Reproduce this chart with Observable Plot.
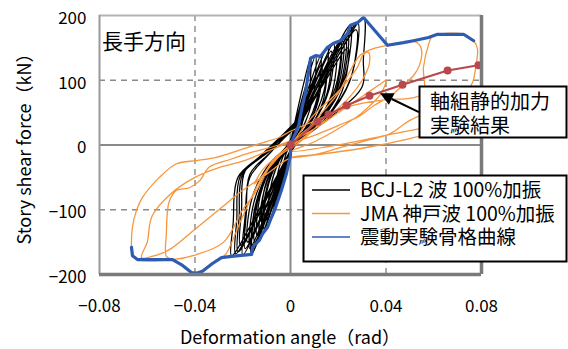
<!DOCTYPE html>
<html><head><meta charset="utf-8">
<script src="https://cdn.jsdelivr.net/npm/d3@7"></script>
<script src="https://cdn.jsdelivr.net/npm/@observablehq/plot@0.6"></script>
<style>
body{margin:0;background:#fff;}
#wrap{position:relative;width:568px;height:349px;}
svg{font-family:"Noto Sans CJK JP",sans-serif;}
</style></head><body><div id="wrap"></div>
<script>
const xTicks = [-0.08, -0.04, 0, 0.04, 0.08];
const xTickLabels = ["−0.08", "−0.04", "0", "0.04", "0.08"];
const yTicks = [-200, -100, 0, 100, 200];
const yTickLabels = ["−200", "−100", "0", "100", "200"];
const dashedX = [-0.04, 0.04];
const dashedY = [-100, 100];
const xLabel = "Deformation angle（rad）";
const yLabel = "Story shear force（kN）";
const panelLabel = "長手方向";
const seriesNames = ["BCJ-L2 波 100%加振", "JMA 神戸波 100%加振", "震動実験骨格曲線"];
const annotationLines = ["軸組静的加力", "実験結果"];
const annotationArrow = [[0.054, 50], [0.0377, 79]]; // tail, tip (data units)

// 軸組静的加力実験結果
const staticTest = [[0,0],[0.0113,36],[0.0159,47],[0.0235,61],[0.0331,76],[0.0469,93],[0.0658,115],[0.0787,123]];

// 震動実験骨格曲線
const skeleton = [
[-0.0666,-158],[-0.0662,-171],[-0.0641,-177],[-0.0494,-177],[-0.0452,-186],[-0.0415,-197],[-0.0394,-198],[-0.0369,-195],[-0.0327,-183],[-0.0289,-174],[-0.0247,-172],[-0.0163,-169],[-0.0159,-158],[-0.013,-147],[-0.0117,-137],[-0.0096,-127],[-0.008,-112],[-0.0067,-101],[-0.0038,-70],[-0.0017,-44],[0,-16],[0,0],
[0.0034,30],[0.005,61],[0.0063,81],[0.0084,134],[0.0105,138],[0.0126,137],[0.0155,151],[0.018,157],[0.0209,161],[0.0239,172],[0.0251,185],[0.0281,189],[0.0306,197],[0.0406,154],[0.0473,158],[0.0515,161],[0.0578,166],[0.0616,171],[0.0725,171],[0.0767,161]
];

// BCJ-L2 波 100%加振
const bcj = [
[0,0],[0.0016,24],[0.0038,53],[0.0063,81],[0.0057,45],[0.0032,16],[0.0006,2],
[-0.001,-21],[-0.0023,-46],[-0.0038,-70],[-0.0034,-39],[-0.0019,-14],[-0.0004,-1],
[0.0021,40],[0.005,87],[0.0084,134],[0.0076,74],[0.0042,27],[0.0008,3],
[-0.0017,-30],[-0.004,-66],[-0.0067,-101],[-0.006,-56],[-0.0034,-20],[-0.0007,-2],
[0.0026,41],[0.0063,90],[0.0105,138],[0.0095,76],[0.0053,28],[0.001,3],
[-0.0024,-38],[-0.0058,-83],[-0.0096,-127],[-0.0086,-70],[-0.0048,-25],[-0.001,-3],
[0.0032,41],[0.0076,89],[0.0126,137],[0.0113,75],[0.0063,27],[0.0013,3],
[-0.0029,-41],[-0.007,-89],[-0.0117,-137],[-0.0105,-75],[-0.0059,-27],[-0.0012,-3],
[0.0039,45],[0.0093,98],[0.0155,151],[0.014,83],[0.0078,30],[0.0016,3],
[-0.0033,-44],[-0.0078,-96],[-0.013,-147],[-0.0117,-81],[-0.0065,-29],[-0.0013,-3],
[0.0045,47],[0.0108,102],[0.018,157],[0.0162,86],[0.009,31],[0.0018,3],
[-0.004,-47],[-0.0095,-103],[-0.0159,-158],[-0.0143,-87],[-0.008,-32],[-0.0016,-3],
[0.0052,48],[0.0125,105],[0.0209,161],[0.0188,89],[0.0105,32],[0.0021,3],
[-0.0041,-51],[-0.0098,-110],[-0.0163,-169],[-0.0147,-93],[-0.0082,-34],[-0.0016,-3],
[0.006,52],[0.0143,112],[0.0239,172],[0.0215,95],[0.012,34],[0.0024,3],
[-0.005,-51],[-0.012,-111],[-0.02,-170],[-0.019,-110],[-0.017,-50],[-0.008,-10],
[0.0063,56],[0.0151,120],[0.0251,185],[0.0226,102],[0.0126,37],[0.0025,4],
[-0.0062,-51],[-0.0148,-111],[-0.0247,-171],[-0.024,-120],[-0.022,-50],[-0.012,-15],
[0.007,57],[0.0169,123],[0.0281,189],[0.0253,104],[0.0141,38],[0.0028,4],
[-0.0055,-50],[-0.0132,-107],[-0.022,-165],[-0.0215,-110],[-0.02,-45],[-0.01,-12],
[0.0077,59],[0.0184,128],[0.0306,197],[0.0305,130],[0.03,90],[0.0153,39],[0.003,4],
[-0.0045,-45],[-0.0108,-98],[-0.018,-150],[-0.0162,-83],[-0.009,-30],[-0.0018,-3],
[0.0055,48],[0.0132,104],[0.022,160],[0.0198,88],[0.011,32],[0.0022,3],
[-0.0035,-42],[-0.0084,-91],[-0.014,-140],[-0.0126,-77],[-0.007,-28],[-0.0014,-3],
[0.0048,42],[0.0114,91],[0.019,140],[0.0171,77],[0.0095,28],[0.0019,3],
[-0.0053,-47],[-0.0126,-101],[-0.021,-155],[-0.0205,-100],[-0.019,-40],[-0.009,-10],
[0.0038,36],[0.009,78],[0.015,120],[0.0135,66],[0.0075,24],[0.0015,2],
[-0.003,-36],[-0.0072,-78],[-0.012,-120],[-0.0108,-66],[-0.006,-24],[-0.0012,-2],
[0.006,45],[0.0144,98],[0.024,150],[0.0216,83],[0.012,30],[0.0024,3],
[-0.0043,-48],[-0.0102,-104],[-0.017,-160],[-0.0153,-88],[-0.0085,-32],[-0.0017,-3],
[0.003,33],[0.0072,72],[0.012,110],[0.0108,61],[0.006,22],[0.0012,2],
[-0.0023,-33],[-0.0054,-72],[-0.009,-110],[-0.0081,-61],[-0.0045,-22],[-0.0009,-2],
[0.0043,44],[0.0102,94],[0.017,145],[0.0153,80],[0.0085,29],[0.0017,3],
[-0.0038,-45],[-0.009,-98],[-0.015,-150],[-0.0135,-83],[-0.0075,-30],[-0.0015,-3],
[0.0053,45],[0.0126,98],[0.021,150],[0.0189,83],[0.0105,30],[0.0021,3],
[-0.0048,-48],[-0.0114,-104],[-0.019,-160],[-0.0185,-105],[-0.017,-45],[-0.008,-10],
[0.0033,38],[0.0078,81],[0.013,125],[0.0117,69],[0.0065,25],[0.0013,3],
[-0.0028,-39],[-0.0066,-85],[-0.011,-130],[-0.0099,-72],[-0.0055,-26],[-0.0011,-3],
[0.0058,50],[0.0138,107],[0.023,165],[0.0207,91],[0.0115,33],[0.0023,3],
[-0.0058,-50],[-0.0138,-109],[-0.023,-168],[-0.0225,-115],[-0.021,-48],[-0.011,-13],
[0.0069,53],[0.0165,116],[0.0275,178],[0.0248,98],[0.0138,36],[0.0028,4],
[-0.004,-50],[-0.0096,-107],[-0.016,-165],[-0.0144,-91],[-0.008,-33],[-0.0016,-3]
];

// JMA 神戸波 100%加振
const jma = [
[0,0],[0.004,15],[0.009,30],[0.013,40],[0.01,25],[0.004,5],[-0.004,-15],[-0.01,-40],[-0.015,-60],[-0.012,-40],[-0.005,-15],[0,0],
[0.006,30],[0.012,55],[0.018,75],[0.023,95],[0.028,120],[0.0306,140],[0.0327,143],[0.033,125],[0.03,100],[0.025,75],[0.018,50],[0.01,25],[0.003,5],
[-0.005,-15],[-0.012,-50],[-0.02,-110],[-0.027,-168],[-0.0289,-174],[-0.0327,-183],[-0.0369,-195],[-0.0394,-198],[-0.0415,-197],[-0.0452,-186],[-0.0494,-177],[-0.052,-172],[-0.052,-137],[-0.0515,-101],[-0.0507,-86],[-0.0477,-70],[-0.0423,-66],[-0.038,-55],[-0.034,-34],[-0.025,-22],[-0.015,-10],[-0.005,0],[0.005,15],
[0.012,45],[0.02,80],[0.0239,107],[0.0293,139],[0.0348,149],[0.0406,154],[0.0473,158],[0.0515,160],[0.054,155],[0.055,143],[0.054,123],[0.0515,107],[0.047,92],[0.042,76],[0.035,61],[0.029,45],[0.02,30],[0.01,15],[0,0],
[-0.008,-30],[-0.015,-75],[-0.02,-100],[-0.028,-150],[-0.04,-170],[-0.0494,-177],[-0.0641,-177],[-0.0662,-171],[-0.0666,-158],[-0.0662,-127],[-0.0645,-101],[-0.062,-81],[-0.0549,-50],[-0.0477,-29],[-0.0394,-24],[-0.031,-19],[-0.0214,-8],[-0.013,2],[-0.0046,12],[0.0004,22],
[0.012,40],[0.025,60],[0.04,70],[0.05,72],[0.0557,80],[0.0557,120],[0.058,157],[0.0595,169],[0.0616,171],[0.0725,171],[0.0767,161],[0.0783,149],[0.0775,118],[0.0762,96],[0.0725,76],[0.068,61],[0.06,53],[0.05,38],[0.042,18],[0.032,7],[0.02,-5],[0.01,-15],[0,-20],
[-0.01,-45],[-0.02,-70],[-0.03,-100],[-0.04,-130],[-0.05,-160],[-0.056,-170],[-0.0624,-174],[-0.06,-150],[-0.058,-110],[-0.05,-75],[-0.04,-50],[-0.03,-35],[-0.02,-25],[-0.01,-10],[0,5],
[0.01,25],[0.02,50],[0.03,75],[0.038,95],[0.04,100],[0.038,80],[0.03,50],[0.02,25],[0.01,5],[0,-10],
[0.02,0],[0.04,15],[0.06,30],[0.075,45],[0.07,30],[0.05,10],[0.03,-5],[0,-20]
];

const colors = {bcj:"#000000", jma:"#f7963c", skel:"#2e5cb2", stat:"#b9474b"};
const X = d => d[0], Y = d => d[1];

const plot = Plot.plot({
  width: 568, height: 349,
  marginLeft: 99, marginRight: 87, marginTop: 15, marginBottom: 75,
  style: {fontFamily: '"Noto Sans CJK JP", sans-serif', fontSize: "17px", color: "#000", background: "#fff"},
  x: {domain: [-0.08, 0.08]},
  y: {domain: [-200, 200]},
  marks: [
    Plot.ruleX(dashedX, {stroke: "#8a8a8a", strokeWidth: 1.4, strokeDasharray: "6,5"}),
    Plot.ruleY(dashedY, {stroke: "#8a8a8a", strokeWidth: 1.4, strokeDasharray: "6,5"}),
    Plot.ruleX([0], {stroke: "#8a8a8a", strokeWidth: 2}),
    Plot.ruleY([0], {stroke: "#8a8a8a", strokeWidth: 2}),
    Plot.line(bcj, {x: X, y: Y, stroke: colors.bcj, strokeWidth: 1.25, curve: "catmull-rom"}),
    Plot.line(jma, {x: X, y: Y, stroke: colors.jma, strokeWidth: 1.3, curve: "catmull-rom"}),
    Plot.line(skeleton, {x: X, y: Y, stroke: colors.skel, strokeWidth: 3.2, strokeLinejoin: "round"}),
    Plot.line(staticTest, {x: X, y: Y, stroke: colors.stat, strokeWidth: 2}),
    Plot.dot(staticTest, {x: X, y: Y, fill: colors.stat, r: 4}),
    Plot.ruleY([200], {stroke: "#b4b4b4", strokeWidth: 2}),
    Plot.ruleX([-0.08], {stroke: "#999", strokeWidth: 2}),
    Plot.ruleX([0.08], {stroke: "#7a7a7a", strokeWidth: 3.5}),
    Plot.ruleY([-200], {stroke: "#7a7a7a", strokeWidth: 3.5}),
    Plot.axisX(xTicks, {tickSize: 0, tickPadding: 25, tickFormat: d => xTickLabels[xTicks.indexOf(d)], label: null, fontSize: 17}),
    Plot.axisY(yTicks, {tickSize: 0, tickPadding: 13, dy: 3, tickFormat: d => yTickLabels[yTicks.indexOf(d)], label: null, fontSize: 17})
  ]
});
document.getElementById("wrap").appendChild(plot);

const svg = d3.select(plot);
const sx = plot.scale("x"), sy = plot.scale("y");
const cx = (sx.apply(-0.08) + sx.apply(0.08)) / 2;
const cy = (sy.apply(-200) + sy.apply(200)) / 2;
const boxPath = (x, y, w, h) => `M${x},${y}H${x + w}V${y + h}H${x}Z`;

// axis titles
svg.append("text").attr("x", cx).attr("y", 344).attr("text-anchor", "middle")
  .attr("font-size", 18).attr("fill", "#000").text(xLabel);
svg.append("text").attr("transform", `translate(31,${cy}) rotate(-90)`).attr("text-anchor", "middle")
  .attr("font-size", 18).attr("fill", "#000").text(yLabel);

// panel label
svg.append("text").attr("x", 102).attr("y", 49).attr("text-anchor", "start")
  .attr("font-size", 21).attr("fill", "#000").text(panelLabel);

// annotation arrow
const t0 = [sx.apply(annotationArrow[0][0]), sy.apply(annotationArrow[0][1])];
const t1 = [sx.apply(annotationArrow[1][0]), sy.apply(annotationArrow[1][1])];
const dx = t1[0] - t0[0], dyv = t1[1] - t0[1], L = Math.hypot(dx, dyv);
const ux = dx / L, uy = dyv / L, hl = 13, hw = 6.5;
const base = [t1[0] - ux * hl, t1[1] - uy * hl];
svg.append("path").attr("d", `M${t0[0]},${t0[1]}L${base[0]},${base[1]}`)
  .attr("fill", "none").attr("stroke", "#000").attr("stroke-width", 2);
svg.append("path").attr("fill", "#000").attr("stroke", "none")
  .attr("d", "M" + [t1, [base[0] - uy * hw, base[1] + ux * hw], [base[0] + uy * hw, base[1] - ux * hw]].map(p => p.join(",")).join("L") + "Z");

// annotation box
const ab = svg.append("g");
ab.append("path").attr("d", boxPath(419.5, 86.5, 147, 51))
  .attr("fill", "#ffffff").attr("stroke", "#000").attr("stroke-width", 2);
annotationLines.forEach((s, i) => ab.append("text").attr("x", 430).attr("y", 109 + i * 24)
  .attr("text-anchor", "start").attr("font-size", 20).attr("fill", "#000").text(s));

// legend
const lg = svg.append("g");
lg.append("path").attr("d", boxPath(303.5, 175.5, 263, 86))
  .attr("fill", "#ffffff").attr("stroke", "#000").attr("stroke-width", 2);
const legendColors = [colors.bcj, colors.jma, colors.skel];
seriesNames.forEach((s, i) => {
  const yy = 190 + i * 23.5;
  lg.append("path").attr("d", `M312,${yy}H350`).attr("fill", "none")
    .attr("stroke", legendColors[i]).attr("stroke-width", 1.6);
  lg.append("text").attr("x", 360).attr("y", yy + 7).attr("text-anchor", "start")
    .attr("font-size", 19.5).attr("fill", "#000").text(s);
});
</script>
</body></html>
